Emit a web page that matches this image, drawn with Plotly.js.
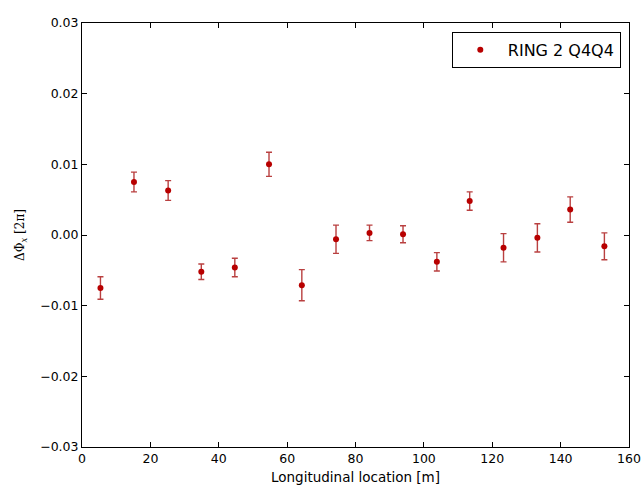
<!DOCTYPE html>
<html>
<head>
<meta charset="utf-8">
<script src="https://cdn.plot.ly/plotly-3.0.1.min.js"></script>
<style>html,body{margin:0;padding:0;background:#fff;}#chart{width:641px;height:490px;}</style>
</head>
<body>
<div id="chart"></div>
<script>
const seriesName = "RING 2 Q4Q4";
const positions = [5.4, 15.2, 25.2, 34.9, 44.7, 54.7, 64.3, 74.3, 84.1, 93.9, 103.8, 113.4, 123.3, 133.2, 142.8, 152.8];
const phaseDiff = [-0.0075, 0.0075, 0.0063, -0.0052, -0.0046, 0.0100, -0.0071, -0.0006, 0.0003, 0.0001, -0.0038, 0.0048, -0.0018, -0.0004, 0.0036, -0.0016];
const phaseErr = [0.0016, 0.0014, 0.0014, 0.0011, 0.0013, 0.0017, 0.0022, 0.0020, 0.0011, 0.0012, 0.0013, 0.0013, 0.0020, 0.0020, 0.0018, 0.0019];
const xTicks = [0, 20, 40, 60, 80, 100, 120, 140, 160];
const yTicks = [-0.03, -0.02, -0.01, 0.00, 0.01, 0.02, 0.03];

const trace = {
  x: positions, y: phaseDiff, name: seriesName,
  type: 'scatter', mode: 'markers',
  marker: {color: '#b80000', size: 6},
  error_y: {type: 'data', array: phaseErr, visible: true, color: 'rgba(165,10,10,0.78)', thickness: 1.4, width: 3}
};
const axisCommon = {
  showline: true, mirror: 'ticks', linecolor: '#000', linewidth: 1,
  ticks: 'inside', ticklen: 5, tickcolor: '#000', showgrid: false, zeroline: false,
  tickfont: {family: 'DejaVu Sans', size: 12.5, color: '#000'}
};
const layout = {
  width: 641, height: 490,
  margin: {l: 82, r: 12, t: 23, b: 43},
  paper_bgcolor: '#fff', plot_bgcolor: '#fff',
  showlegend: true,
  legend: {x: 0.985, y: 0.979, xanchor: 'right', yanchor: 'top', bgcolor: '#fff', bordercolor: '#000', borderwidth: 1,
           font: {family: 'DejaVu Sans', size: 16, color: '#000'}, itemwidth: 45, tracegroupgap: 0},
  xaxis: Object.assign({}, axisCommon, {range: [0, 160], tickvals: xTicks, ticktext: xTicks.map(String),
    title: {text: 'Longitudinal location [m]', font: {family: 'DejaVu Sans', size: 13.5, color: '#000'}, standoff: 7}}),
  yaxis: Object.assign({}, axisCommon, {range: [-0.03, 0.03], tickvals: yTicks, tickformat: '.2f',
    title: {text: 'ΔΦ<sub><i>x</i></sub> [2π]', font: {family: 'DejaVu Serif', size: 12, color: '#000'}, standoff: 12}})
};
Plotly.newPlot('chart', [trace], layout, {displayModeBar: false, staticPlot: true});
</script>
</body>
</html>
